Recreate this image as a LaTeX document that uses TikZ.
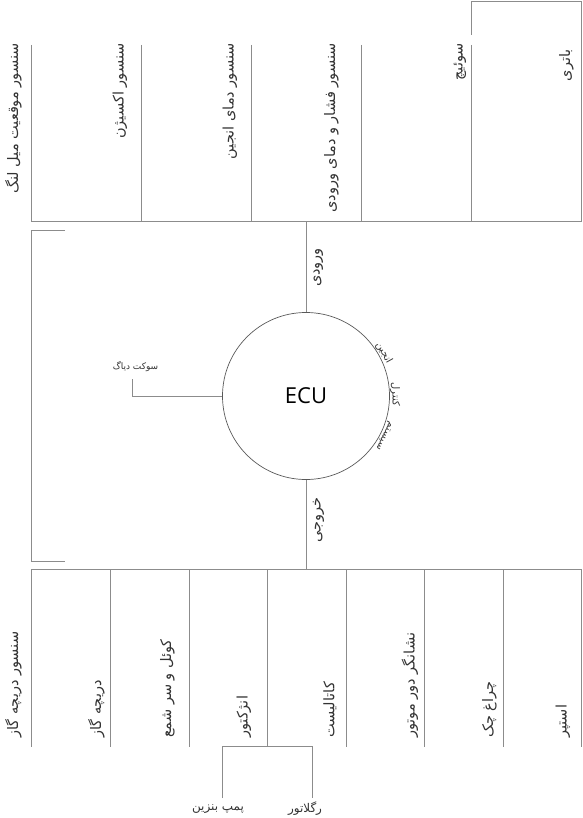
\documentclass[tikz,border=0pt]{standalone}
\usepackage{fontspec}
\newfontfamily\farsifont[Script=Arabic]{DejaVu Sans}
\newfontfamily\ecufont{Open Sans}
\TeXXeTstate=1
\tikzset{
	wire/.style={draw=black!45,line width=0.8pt},
	vlabel/.style={rotate=90,inner sep=0pt,text=black!80,font=\farsifont\fontsize{14.5}{16}\selectfont},
	hlabel/.style={inner sep=0pt,text=black!80,font=\farsifont\fontsize{12}{14}\selectfont},
	arclabel/.style={inner sep=0pt,anchor=south,text=black!80,font=\farsifont\fontsize{10}{12}\selectfont},
}

\begin{document}
\begin{tikzpicture}[x=1pt,y=-1pt]
		\useasboundingbox (0,0) rectangle (582,818);
		\coordinate (inL) at (31.7,221.7);
		\coordinate (inR) at (581.7,221.7);
		\coordinate (crank) at (31.7,45);
		\coordinate (oxy) at (141.7,45);
		\coordinate (temp) at (251.7,45);
		\coordinate (map) at (361.7,45);
		\coordinate (sw) at (471.7,45);
		\coordinate (batT) at (471.7,35);
		\coordinate (bat) at (581.7,1.7);
		\draw[wire] (inL) -- (inR);
		\draw[wire] (crank) -- (crank |- inL);
		\draw[wire] (oxy) -- (oxy |- inL);
		\draw[wire] (temp) -- (temp |- inL);
		\draw[wire] (map) -- (map |- inL);
		\draw[wire] (sw) -- (sw |- inL);
		\draw[wire] (batT) |- (bat) -- (bat |- inR);
		\node[vlabel,anchor=east] (crankL) at (13.5,43) {\beginR سنسور موقعیت میل لنگ\endR};
		\node[vlabel,anchor=east] (oxyL) at (120,43) {\beginR سنسور اکسیژن\endR};
		\node[vlabel,anchor=east] (tempL) at (230,43) {\beginR سنسور دمای انجین\endR};
		\node[vlabel,anchor=east] (mapL) at (331.5,43) {\beginR سنسور فشار و دمای ورودی\endR};
		\node[vlabel,anchor=east] (swL) at (460,43) {\beginR سوئیچ\endR};
		\node[vlabel,anchor=east] (batL) at (566.5,49) {\beginR باتری\endR};

		\node[circle,draw=black!65,line width=0.7pt,minimum size=167pt,inner sep=0pt,font=\ecufont\fontsize{22}{26}\selectfont] (ecu) at (306,396) {ECU};
		\draw[wire] (ecu.north) -- (ecu.north |- inL);
		\node[vlabel] (inW) at (318.5,267.5) {\beginR ورودی\endR};
		\node[vlabel] (outW) at (318.5,520) {\beginR خروجی\endR};
		\node[arclabel,rotate=-61] (engW) at (ecu.29) {\beginR انجین\endR};
		\node[arclabel,rotate=-89] (ctrlW) at (ecu.1) {\beginR کنترل\endR};
		\node[arclabel,rotate=-117] (sysW) at (ecu.-27) {\beginR سیستم\endR};
		\coordinate (diag) at (132,379);
		\draw[wire] (ecu.west) -| (diag);
		\node[hlabel,font=\farsifont\fontsize{9}{11}\selectfont] (diagL) at (135.5,366.5) {\beginR سوکت دیاگ\endR};
		\coordinate (brT) at (65,230);
		\coordinate (brB) at (65,561);
		\draw[wire] (brT) -| (inL |- brB) -- (brB);

		\coordinate (outL) at (31.7,569.3);
		\coordinate (outR) at (581.7,569.3);
		\coordinate (tps) at (31.7,746.5);
		\coordinate (thr) at (110.3,746.5);
		\coordinate (coil) at (188.9,746.5);
		\coordinate (inj) at (267.4,746.5);
		\coordinate (cat) at (346,746.5);
		\coordinate (rpm) at (424.6,746.5);
		\coordinate (chk) at (503.1,746.5);
		\coordinate (stp) at (581.7,746.5);
		\draw[wire] (outL) -- (outR);
		\draw[wire] (ecu.south) -- (ecu.south |- outL);
		\draw[wire] (tps) -- (tps |- outL);
		\draw[wire] (thr) -- (thr |- outL);
		\draw[wire] (coil) -- (coil |- outL);
		\draw[wire] (inj) -- (inj |- outL);
		\draw[wire] (cat) -- (cat |- outL);
		\draw[wire] (rpm) -- (rpm |- outL);
		\draw[wire] (chk) -- (chk |- outL);
		\draw[wire] (stp) -- (stp |- outL);
		\node[vlabel,anchor=west] (tpsL) at (13.5,738) {\beginR سنسور دریچه گاز\endR};
		\node[vlabel,anchor=west] (thrL) at (96.5,738) {\beginR دریچه گاز\endR};
		\node[vlabel,anchor=west] (coilL) at (167.5,738) {\beginR کوئل و سر شمع\endR};
		\node[vlabel,anchor=west] (injL) at (244,738) {\beginR انژکتور\endR};
		\node[vlabel,anchor=west] (catL) at (330,738) {\beginR کاتالیست\endR};
		\node[vlabel,anchor=west] (rpmL) at (410,738) {\beginR نشانگر دور موتور\endR};
		\node[vlabel,anchor=west] (chkL) at (489.5,738) {\beginR چراغ چک\endR};
		\node[vlabel,anchor=west] (stpL) at (563,738) {\beginR استپر\endR};

		\coordinate (pumpT) at (222.3,798);
		\coordinate (regT) at (312.7,798);
		\draw[wire] (pumpT) |- (inj) -| (regT);
		\node[hlabel] (pump) at (218,809) {\beginR پمپ بنزین\endR};
		\node[hlabel] (reg) at (305,809) {\beginR رگلاتور\endR};
	\end{tikzpicture}
\end{document}
